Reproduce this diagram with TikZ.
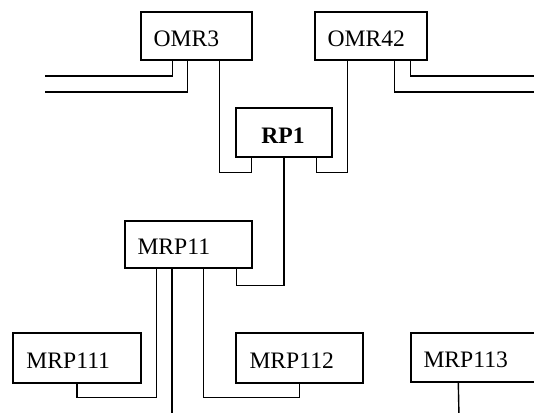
\documentclass[tikz,border=0pt]{standalone}
\usepackage{fontspec}
\setmainfont{Liberation Serif}
\usetikzlibrary{positioning}
\begin{document}
\begin{tikzpicture}[x=1bp,y=1bp,
  box/.style={draw,line width=1.4bp,rectangle,inner sep=0pt},
  lbl/.style={anchor=base west,inner sep=0pt,font=\fontsize{23.6bp}{28bp}\selectfont},
  wire/.style={line width=1.4bp}]
\useasboundingbox (0,0) rectangle (534,412);
\clip (0,0) rectangle (534,412);
\fill[white] (0,0) rectangle (534,412);

% boxes
\node[box,minimum width=111bp,minimum height=48bp] (omr3) at (196.5,376) {};
\node[box,minimum width=112bp,minimum height=48bp] (omr42) at (371,376) {};
\node[box,minimum width=96bp,minimum height=49bp] (rp1) at (284,279.5) {};
\node[box,minimum width=127bp,minimum height=47bp] (mrp11) at (188.5,167.5) {};
\node[box,minimum width=128bp,minimum height=50bp] (mrp111) at (77,54) {};
\node[box,minimum width=127bp,minimum height=50bp] (mrp112) at (299.5,54) {};
\node[box,minimum width=129bp,minimum height=49bp] (mrp113) at (475.5,54.5) {};

% labels
\node[lbl] (omr3t) at ([shift={(13,14.5)}]omr3.south west) {OMR3};
\node[lbl] (omr42t) at ([shift={(13,14.5)}]omr42.south west) {OMR42};
\node[lbl,anchor=base] (rp1t) at ([shift={(-1,14.5)}]rp1.south) {\textbf{RP1}};
\node[lbl] (mrp11t) at ([shift={(13,14)}]mrp11.south west) {MRP11};
\node[lbl] (mrp111t) at ([shift={(14,15)}]mrp111.south west) {MRP111};
\node[lbl] (mrp112t) at ([shift={(14,15)}]mrp112.south west) {MRP112};
\node[lbl] (mrp113t) at ([shift={(13,15)}]mrp113.south west) {MRP113};

% free ends
\coordinate (w1) at (45,336);
\coordinate (w2) at (45,320);
\coordinate (e1) at (545,336);
\coordinate (e2) at (545,320);
\coordinate (d1) at (172,-5);
\coordinate (d2) at (459,-5);

% connectors
\draw[wire] ([xshift=32bp]omr3.south west) |- (w1);
\draw[wire] ([xshift=47bp]omr3.south west) |- (w2);
\draw[wire] ([xshift=79bp]omr3.south west) -- ++(0,-112) -| ([xshift=16bp]rp1.south west);
\draw[wire] ([xshift=33bp]omr42.south west) -- ++(0,-112) -| ([xshift=-16bp]rp1.south east);
\draw[wire] ([xshift=80bp]omr42.south west) |- (e2);
\draw[wire] ([xshift=96bp]omr42.south west) |- (e1);
\draw[wire] (rp1.south) -- ++(0,-128) -| ([xshift=-16bp]mrp11.south east);
\draw[wire] ([xshift=32bp]mrp11.south west) -- ++(0,-129) -| (mrp111.south);
\draw[wire] ([xshift=47bp]mrp11.south west) -- (d1 |- mrp11.south) -- (d1);
\draw[wire] ([xshift=79bp]mrp11.south west) -- ++(0,-129) -| (mrp112.south);
\draw[wire] ([xshift=48bp]mrp113.south west) -- (d2);
\end{tikzpicture}
\end{document}
